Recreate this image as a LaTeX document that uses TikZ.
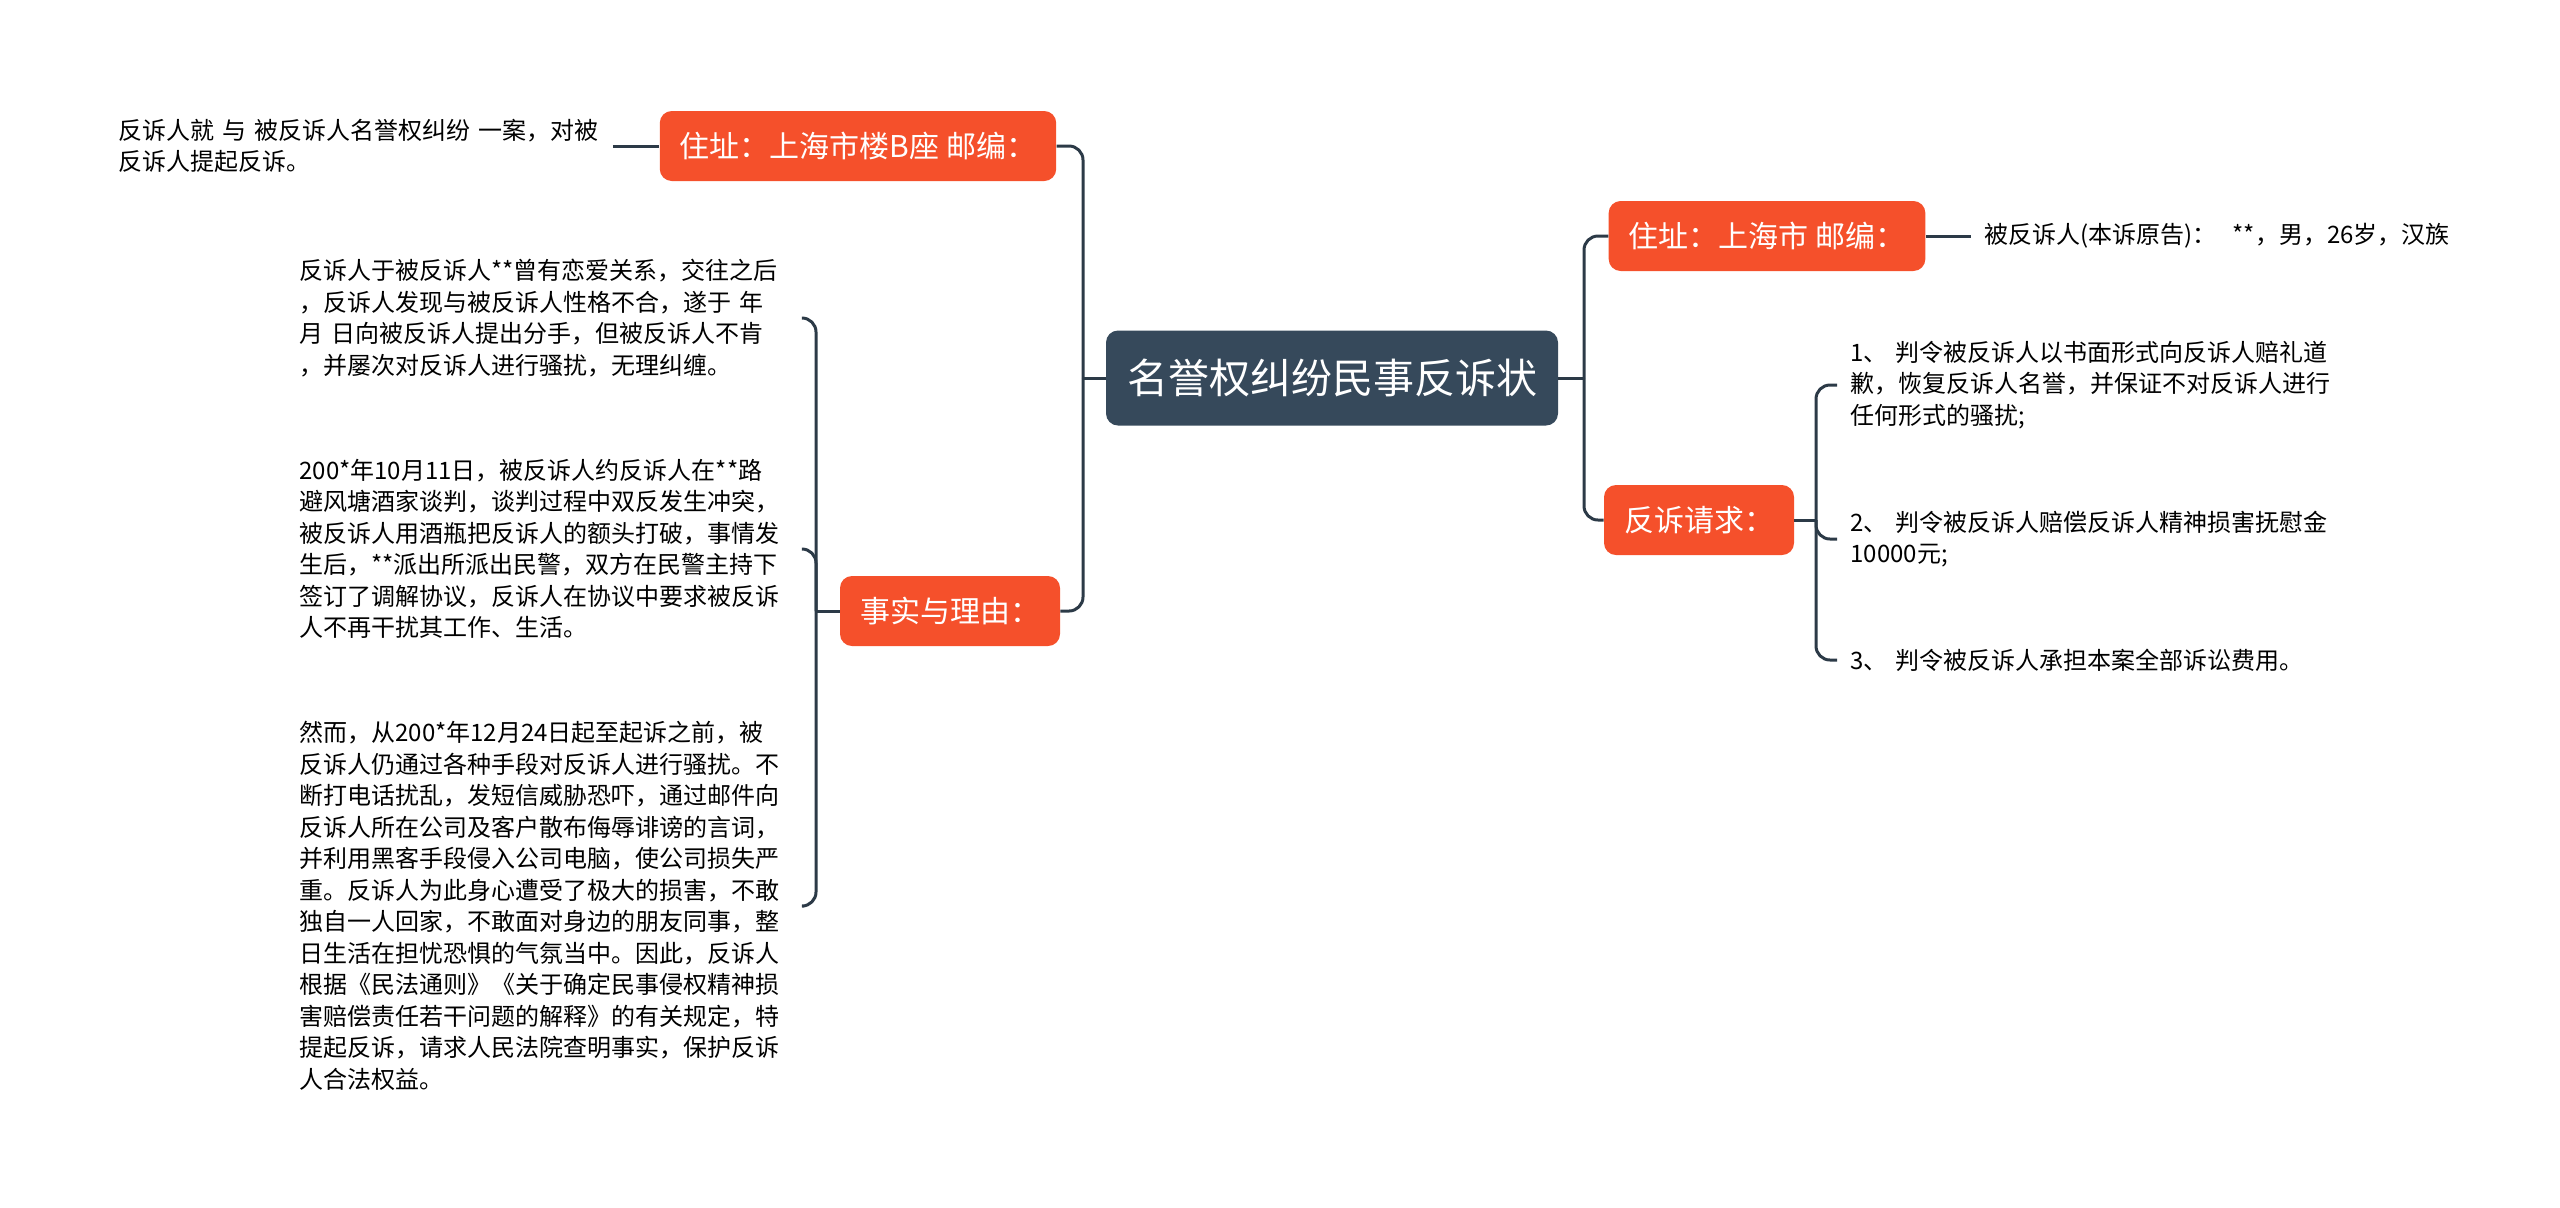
\documentclass[tikz,border=0pt]{standalone}
\usepackage{fontspec}
\setmainfont{Noto Sans CJK SC}

\definecolor{topicbg}{HTML}{36495B}
\definecolor{branchbg}{HTML}{F5502B}
\definecolor{linkcol}{HTML}{2C3A47}

\tikzset{
  topic/.style={fill=topicbg, text=white, rounded corners=6pt, minimum height=47.5pt, inner xsep=10.5pt, font=\fontsize{20.5}{24}\selectfont},
  branch/.style={fill=branchbg, text=white, rounded corners=6pt, minimum height=35pt, inner xsep=10pt, font=\fontsize{15}{18}\selectfont},
  leaf/.style={align=left, text width=252pt, inner xsep=0pt, inner ysep=0pt, font=\fontsize{12}{15.75}\selectfont},
  link/.style={draw=linkcol, line width=1.5pt, rounded corners=7pt},
}

\begin{document}
\begin{tikzpicture}[x=0.5pt,y=-0.5pt]
    \useasboundingbox (0,0) rectangle (2560,1207);

    % centre
    \node[topic] (main) at (1332,378) {名誉权纠纷民事反诉状};

    % left side
    \node[branch] (addrl) at (858,146) {住址：上海市楼B座 邮编：};
    \node[branch] (facts) at (950,611) {事实与理由：};
    \node[leaf, text width=247pt, anchor=west] (note) at (118,146)
        {反诉人就 与 被反诉人名誉权纠纷 一案，对被\\反诉人提起反诉。};

    \node[leaf, anchor=west] (f1) at (299,318)
        {反诉人于被反诉人**曾有恋爱关系，交往之后\\，反诉人发现与被反诉人性格不合，遂于 年\\月 日向被反诉人提出分手，但被反诉人不肯\\，并屡次对反诉人进行骚扰，无理纠缠。};
    \node[leaf, anchor=west] (f2) at (299,549)
        {200*年10月11日，被反诉人约反诉人在**路\\避风塘酒家谈判，谈判过程中双反发生冲突，\\被反诉人用酒瓶把反诉人的额头打破，事情发\\生后，**派出所派出民警，双方在民警主持下\\签订了调解协议，反诉人在协议中要求被反诉\\人不再干扰其工作、生活。};
    \node[leaf, anchor=west] (f3) at (299,906)
        {然而，从200*年12月24日起至起诉之前，被\\反诉人仍通过各种手段对反诉人进行骚扰。不\\断打电话扰乱，发短信威胁恐吓，通过邮件向\\反诉人所在公司及客户散布侮辱诽谤的言词，\\并利用黑客手段侵入公司电脑，使公司损失严\\重。反诉人为此身心遭受了极大的损害，不敢\\独自一人回家，不敢面对身边的朋友同事，整\\日生活在担忧恐惧的气氛当中。因此，反诉人\\根据《民法通则》《关于确定民事侵权精神损\\害赔偿责任若干问题的解释》的有关规定，特\\提起反诉，请求人民法院查明事实，保护反诉\\人合法权益。};

    % right side
    \node[branch] (addrr) at (1767,236) {住址：上海市 邮编：};
    \node[branch] (claim) at (1699,520) {反诉请求：};
    \node[leaf, anchor=west, inner xsep=6.5pt] (who) at (1971,236)
        {被反诉人(本诉原告)：\ \ **，男，26岁，汉族};

    \node[leaf, anchor=west, inner xsep=6.5pt] (c1) at (1837,385)
        {1、 判令被反诉人以书面形式向反诉人赔礼道\\歉，恢复反诉人名誉，并保证不对反诉人进行\\任何形式的骚扰;};
    \node[leaf, anchor=west, inner xsep=6.5pt] (c2) at (1837,539)
        {2、 判令被反诉人赔偿反诉人精神损害抚慰金\\10000元;};
    \node[leaf, anchor=west, inner xsep=6.5pt] (c3) at (1837,660)
        {3、 判令被反诉人承担本案全部诉讼费用。};

    % links
    \coordinate (lj) at (1083,378);
    \coordinate (rj) at (1584,378);
    \coordinate (fj) at (816,611);
    \coordinate (cj) at (1816,520);

    \draw[link] (main.west) -- (lj);
    \draw[link] (main.east) -- (rj);
    \foreach \n in {addrl,facts}
      \draw[link] (lj) |- (\n.east);
    \foreach \n in {addrr,claim}
      \draw[link] (rj) |- (\n.west);

    \draw[link] (note.east) -- (addrl.west);
    \draw[link] (addrr.east) -- (who.west);

    \draw[link] (facts.west) -- (fj);
    \foreach \n in {f1,f2,f3}
      \draw[link] (fj) |- (\n.east);

    \draw[link] (claim.east) -- (cj);
    \foreach \n in {c1,c2,c3}
      \draw[link] (cj) |- (\n.west);
\end{tikzpicture}
\end{document}
